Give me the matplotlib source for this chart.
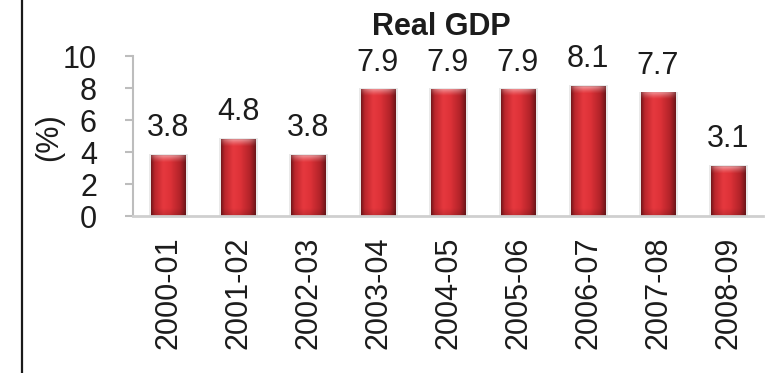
import numpy as np
import matplotlib
matplotlib.use("Agg")
import matplotlib.pyplot as plt
from matplotlib.patches import Rectangle
from matplotlib.lines import Line2D

# Real GDP growth by fiscal year (%)
years = ["2000-01", "2001-02", "2002-03", "2003-04", "2004-05",
         "2005-06", "2006-07", "2007-08", "2008-09"]
growth = [3.8, 4.8, 3.8, 7.9, 7.9, 7.9, 8.1, 7.7, 3.1]
y_ticks = [0, 2, 4, 6, 8, 10]

plt.rcParams["font.family"] = ["Liberation Sans", "DejaVu Sans"]
TXT = "#1c1c1c"
FS = 22

fig = plt.figure(figsize=(7.7, 3.73), dpi=100)
ax = fig.add_axes([133 / 770, 1 - 216 / 373, 630 / 770, 160 / 373])

bar_w = 0.5

# horizontal shading profile of a glossy red bar
stops = np.array([0.0, 0.10, 0.35, 0.55, 0.85, 1.0])
cols = np.array([
    [120, 24, 28],
    [186, 38, 44],
    [230, 56, 62],
    [222, 50, 56],
    [176, 34, 40],
    [112, 22, 26],
]) / 255.0


def bar_image(h, ncols=40, rows_per_unit=16):
    nrows = max(4, int(round(h * rows_per_unit)))
    u = np.linspace(0, 1, ncols)
    prof = np.stack([np.interp(u, stops, cols[:, k]) for k in range(3)], axis=-1)
    img = np.repeat(prof[None, :, :], nrows, axis=0)
    yy = (np.arange(nrows) + 0.5) / rows_per_unit  # data units from base
    depth = h - yy
    # lighter cap near the top
    cap = np.clip(1 - depth / 0.45, 0, 1) ** 1.3 * 0.5
    # thin darker rim at the very top
    rim = np.clip(1 - depth / 0.06, 0, 1) * 0.12
    # slight darkening toward the base
    base = np.clip(1 - yy / 0.5, 0, 1) * 0.15
    edge = np.abs(u - 0.5) * 2
    cap2 = cap[:, None] * (1 - 0.6 * edge[None, :] ** 3)
    img = img + (1 - img) * cap2[:, :, None]
    img = img * (1 - rim[:, None, None]) * (1 - base[:, None, None])
    return np.clip(img, 0, 1)


for i, v in enumerate(growth):
    # soft shadow
    ax.add_patch(Rectangle((i - bar_w / 2 - 0.02, 0), bar_w + 0.06, v + 0.08,
                           facecolor="#d8d8d8", edgecolor="none", alpha=0.55,
                           zorder=1))
    ax.imshow(bar_image(v), extent=[i - bar_w / 2, i + bar_w / 2, 0, v],
              origin="lower", aspect="auto", interpolation="bilinear",
              zorder=2)
    ax.annotate(f"{v}", (i, v), xytext=(0, 13.7), textcoords="offset points",
                ha="center", va="baseline", fontsize=FS, color=TXT,
                annotation_clip=False)

ax.set_xlim(-0.5, len(years) - 0.5)
ax.set_ylim(0, 10)
ax.set_yticks(y_ticks)
ax.set_xticks(range(len(years)))
ax.set_xticklabels(years, rotation=90)

for s in ["top", "right"]:
    ax.spines[s].set_visible(False)
ax.spines["left"].set_color("#bdbdbd")
ax.spines["left"].set_linewidth(1.5)
ax.spines["bottom"].set_color("#cfcfcf")
ax.spines["bottom"].set_linewidth(2)
ax.spines["bottom"].set_zorder(3)

ax.tick_params(axis="y", direction="out", length=6, width=1.5,
               color="#bdbdbd", pad=20, labelsize=FS, labelcolor=TXT)
ax.tick_params(axis="x", length=0, pad=15, labelsize=FS, labelcolor=TXT)

fig.text(441 / 770, 1 - 35 / 373, "Real GDP", ha="center", va="baseline",
         fontsize=FS, fontweight="bold", color=TXT)
fig.text(49 / 770, 1 - 137.5 / 373, "(%)", rotation=90, ha="center",
         va="center", fontsize=FS, color=TXT)

# frame line on the left edge of the figure
fig.add_artist(Line2D([22 / 770, 22 / 770], [0, 1], transform=fig.transFigure,
                      color="#1a1a1a", linewidth=1.6))

fig.savefig("out.png", dpi=100)
